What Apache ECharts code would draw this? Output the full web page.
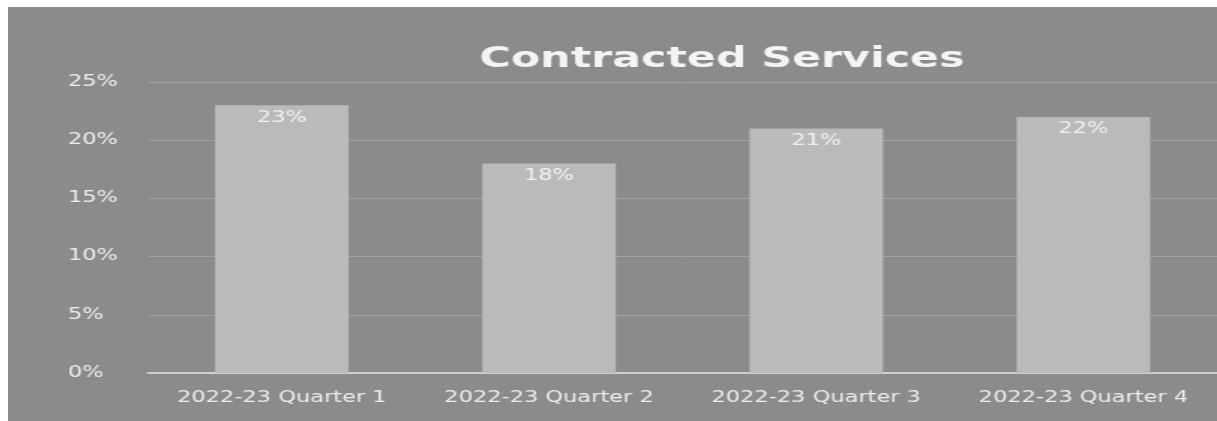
<!DOCTYPE html>
<html>
<head>
<meta charset="utf-8">
<title>Contracted Services</title>
<script src="https://cdn.jsdelivr.net/npm/echarts@6/dist/echarts.min.js"></script>
<style>
  html, body { margin: 0; padding: 0; background: #ffffff; width: 1217px; height: 421px; overflow: hidden; }
  #frame { position: absolute; left: 8px; top: 7px; width: 1209px; height: 414px; overflow: hidden; background: #8b8b8b; }
  /* chart is laid out narrow and widened horizontally, giving the wide lettering */
  #chart { position: absolute; left: 0; top: 0; width: 806px; height: 414px; transform-origin: 0 0; transform: scaleX(1.5); }
</style>
</head>
<body>
<div id="frame"><div id="chart"></div></div>
<script>
const chartTitle = 'Contracted Services';
const categories = ['2022-23 Quarter 1', '2022-23 Quarter 2', '2022-23 Quarter 3', '2022-23 Quarter 4'];
const shares = [23, 18, 21, 22];
const yTicks = [0, 5, 10, 15, 20, 25];

const textColor = '#eeeeee';
const fontFamily = 'DejaVu Sans';

const chart = echarts.init(document.getElementById('chart'), null, { renderer: 'canvas' });

chart.setOption({
  backgroundColor: '#8b8b8b',
  animation: false,
  graphic: [{
    type: 'text',
    x: 476,
    y: 53,
    style: {
      text: chartTitle,
      fill: '#f4f4f4',
      font: 'bold 28.5px "DejaVu Sans"',
      textAlign: 'center',
      textVerticalAlign: 'middle'
    }
  }],
  grid: { left: 93.5, top: 75, width: 716.5, height: 291, containLabel: false },
  xAxis: {
    type: 'category',
    data: categories,
    axisLine: { show: true, lineStyle: { color: '#cfcfcf', width: 2 } },
    axisTick: { show: false },
    axisLabel: {
      color: textColor, fontSize: 15, fontFamily: fontFamily, margin: 18,
      interval: 0, hideOverlap: false
    }
  },
  yAxis: {
    type: 'value',
    min: yTicks[0],
    max: yTicks[yTicks.length - 1],
    interval: 5,
    axisLine: { show: false },
    axisTick: { show: false },
    splitLine: { show: true, lineStyle: { color: '#a2a2a2', width: 1 } },
    axisLabel: {
      color: textColor, fontSize: 15, fontFamily: fontFamily,
      align: 'left', margin: 53.5,
      formatter: v => v + '%'
    }
  },
  series: [{
    type: 'bar',
    data: shares,
    barWidth: '50%',
    itemStyle: { color: '#bababa' },
    label: {
      show: true,
      position: 'insideTop',
      distance: 5,
      color: '#f2f2f2',
      fontSize: 15,
      fontFamily: fontFamily,
      formatter: p => p.value + '%'
    }
  }]
});
</script>
</body>
</html>
